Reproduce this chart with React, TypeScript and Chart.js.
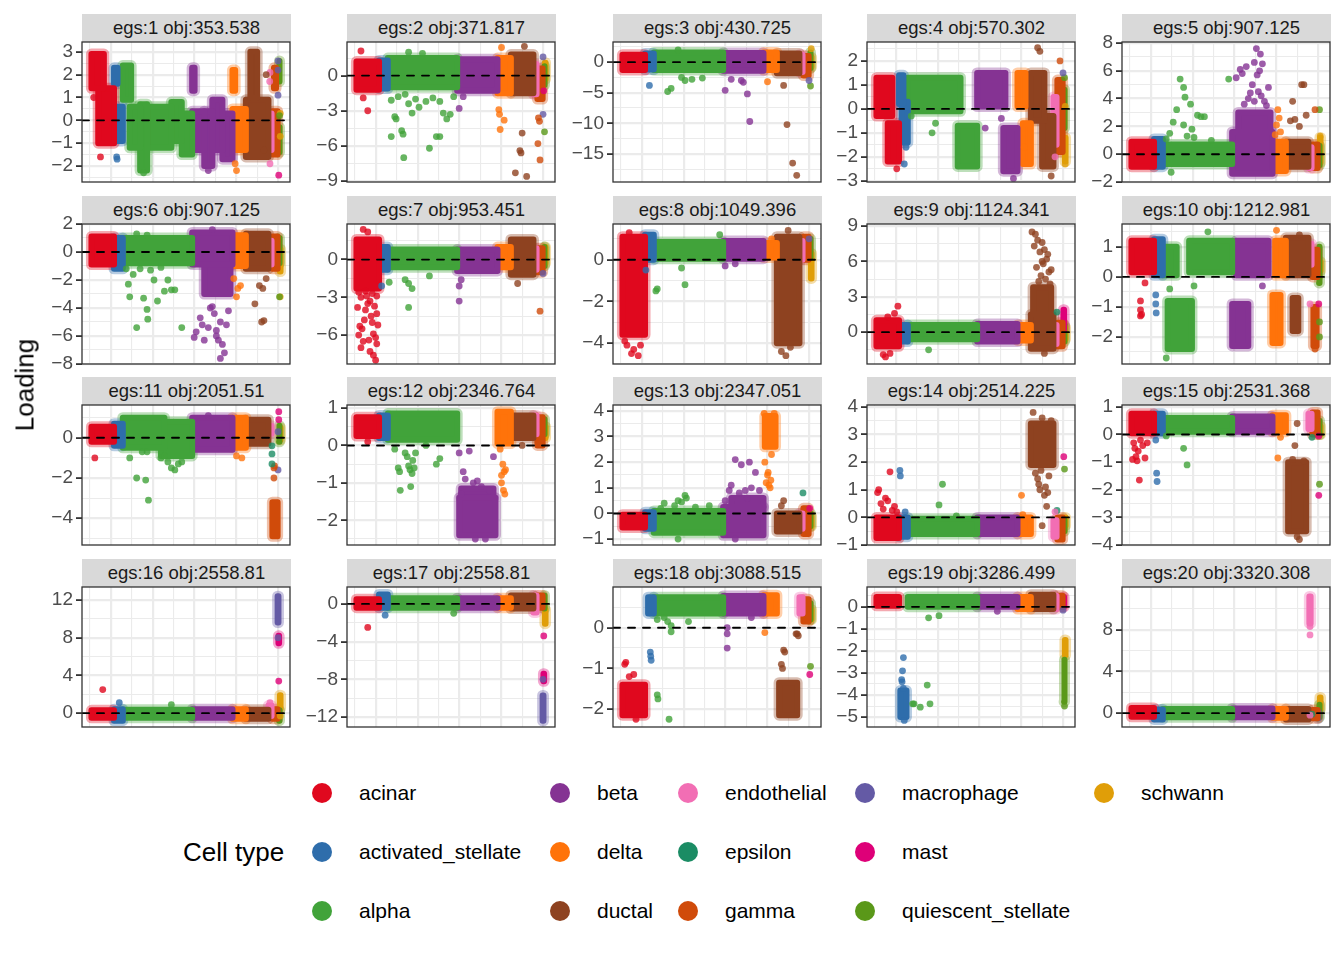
import React, { useEffect, useRef } from "react";
import { Chart, registerables } from "chart.js";

Chart.register(...registerables);

// ---------------- data ----------------
const cellTypes = [
  "acinar", "activated_stellate", "alpha", "beta", "delta", "ductal", "endothelial",
  "epsilon", "gamma", "macrophage", "mast", "quiescent_stellate", "schwann",
];
const typeColors = [
  "#E0081E", "#2E6DAB", "#41A33A", "#853393", "#FF730A", "#8E4220", "#F26EB4",
  "#1B8C64", "#D04B0A", "#645AA5", "#DE0078", "#5A9819", "#E09E08",
];
// number of cells of each type (cells are ordered by type along the x axis)
const cellCounts = [1080, 420, 3320, 1930, 640, 1080, 150, 40, 250, 40, 30, 40, 30];
const firstCellIndex = 70;

const panelTitles = [
  "egs:1 obj:353.538", "egs:2 obj:371.817", "egs:3 obj:430.725", "egs:4 obj:570.302", "egs:5 obj:907.125",
  "egs:6 obj:907.125", "egs:7 obj:953.451", "egs:8 obj:1049.396", "egs:9 obj:1124.341", "egs:10 obj:1212.981",
  "egs:11 obj:2051.51", "egs:12 obj:2346.764", "egs:13 obj:2347.051", "egs:14 obj:2514.225", "egs:15 obj:2531.368",
  "egs:16 obj:2558.81", "egs:17 obj:2558.81", "egs:18 obj:3088.515", "egs:19 obj:3286.499", "egs:20 obj:3320.308",
];

const yLimits = [
  [-2.7, 3.43], [-9.08, 2.87], [-19.6, 3.3], [-3.05, 2.79], [-2.0, 8.07],
  [-8.0, 2.0], [-8.3, 2.83], [-5.0, 1.71], [-2.7, 9.17], [-2.9, 1.76],
  [-5.33, 1.63], [-2.66, 1.08], [-1.23, 4.23], [-1.0, 4.07], [-4.0, 1.07],
  [-1.47, 13.37], [-13.05, 1.79], [-2.44, 1.0], [-5.45, 0.9], [-1.33, 12.1],
];

const yBreaks = [
  [-2, -1, 0, 1, 2, 3], [-9, -6, -3, 0], [-15, -10, -5, 0], [-3, -2, -1, 0, 1, 2], [-2, 0, 2, 4, 6, 8],
  [-8, -6, -4, -2, 0, 2], [-6, -3, 0], [-4, -2, 0], [0, 3, 6, 9], [-2, -1, 0, 1],
  [-4, -2, 0], [-2, -1, 0, 1], [-1, 0, 1, 2, 3, 4], [-1, 0, 1, 2, 3, 4], [-4, -3, -2, -1, 0, 1],
  [0, 4, 8, 12], [-12, -8, -4, 0], [-2, -1, 0], [-5, -4, -3, -2, -1, 0], [0, 4, 8],
];

const xBreaks = [1000, 3000, 5000, 7000, 9000];

// dense clusters: [typeIndex, fromFraction, toFraction, low, high] (fractions of that type's cells)
// single cells:   [typeIndex, fraction, loading]
const bands1 = [
  [0, 0, 0.55, 1.4, 2.9], [0, 0.3, 1, -1.0, 1.4], [1, 0, 0.4, 1.6, 2.3], [1, 0.3, 1, -0.9, 0.6],
  [2, 0, 0.12, 0.9, 2.4], [2, 0.1, 0.25, -1.2, 0.6], [2, 0.25, 0.35, -2.2, 0.7], [2, 0.35, 0.7, -1.2, 0.6],
  [2, 0.7, 0.85, -0.9, 0.8], [2, 0.85, 1, -1.5, 0.3], [3, 0, 0.06, 1.3, 2.3], [3, 0, 0.3, -1.3, 0.4],
  [3, 0.3, 0.5, -2.0, 0.4], [3, 0.5, 0.75, -1.3, 0.9], [3, 0.75, 1, -1.7, 0.3], [4, 0, 0.2, 1.3, 2.2],
  [4, 0, 1, -1.3, 0.5], [5, 0.2, 0.5, 1.0, 3.0], [5, 0, 1, -1.6, 0.9], [6, 0, 1, -1.3, 0.3],
  [8, 0, 1, -1.5, 0.4], [8, 0.3, 0.7, 1.4, 2.3], [11, 0, 1, 1.7, 2.6], [11, 0, 1, -1.4, -0.3],
];
const cells1 = [
  [0, 0.1, 1.0], [0, 0.4, -1.6], [1, 0.3, -1.6], [1, 0.35, -1.7], [2, 0.3, -2.3], [3, 0.4, -2.2],
  [4, 0.3, -2.2], [4, 0.2, -1.9], [5, 0.9, 2.0], [5, 0.8, -1.3], [6, 0.5, 2.1], [6, 0.5, -1.9],
  [6, 0.4, 1.7], [9, 0.5, 2.6], [9, 0.5, 2.2], [9, 0.5, 1.1], [12, 0.5, -0.7], [12, 0.5, 0.3],
  [10, 0.5, -2.4], [11, 0.5, 0.2],
];
const bands2 = [
  [0, 0, 1, -1.2, 1.2], [1, 0, 1, -1.1, 1.3], [2, 0, 1, -1.0, 1.5], [3, 0, 1, -1.3, 1.4],
  [4, 0, 1, -1.5, 1.5], [5, 0, 1, -1.5, 1.8], [6, 0, 1, -1.6, 1.0], [8, 0, 1, -2.0, 0.6],
  [11, 0, 1, -0.8, 0.8], [12, 0, 1, -0.3, 1.1],
];
const cells2 = [
  [0, 0.2, 2.1], [0, 0.5, -3.0], [0, 0.3, -1.9], [2, 0.05, -2.1], [2, 0.05, -5.2], [2, 0.1, -3.5],
  [2, 0.12, -3.7], [2, 0.2, -4.7], [2, 0.22, -5.0], [2, 0.23, -7.0], [2, 0.3, -2.4], [2, 0.35, -3.2],
  [2, 0.4, -2.0], [2, 0.45, -2.7], [2, 0.55, -2.2], [2, 0.6, -6.2], [2, 0.7, -5.2], [2, 0.75, -5.2],
  [2, 0.8, -3.2], [2, 0.85, -3.7], [2, 0.9, -3.3], [2, 0.75, -2.2], [2, 0.3, 2.0], [2, 0.5, 1.9],
  [2, 0.15, -1.8], [2, 0.65, -1.9], [2, 0.25, -1.6], [2, 0.95, -1.8],
  [3, 0.15, -1.8], [3, 0.05, -2.8], [4, 0.1, -2.9], [4, 0.15, -3.3], [4, 0.2, -4.6], [4, 0.5, -3.8],
  [4, 0.3, 2.4], [5, 0.5, -4.9], [5, 0.4, -6.4], [5, 0.45, -6.6], [5, 0.2, -8.3], [5, 0.7, -8.6],
  [5, 0.6, 2.5], [8, 0.2, -3.6], [8, 0.4, -3.9], [8, 0.1, -5.8], [8, 0.5, -7.2], [9, 0.5, 1.6],
  [9, 0.5, -3.3], [11, 0.5, -4.8], [10, 0.5, -1.3],
];
const bands3 = [
  [0, 0, 1, -1.3, 1.2], [1, 0, 1, -1.2, 1.4], [2, 0, 1, -1.3, 1.6], [3, 0, 1, -1.4, 1.5],
  [4, 0, 1, -1.3, 1.6], [5, 0, 1, -1.8, 1.4], [6, 0, 1, -1.6, 1.2], [8, 0, 1, -2.2, 1.0],
  [11, 0, 1, -1.0, 1.6], [12, 0, 1, -0.8, 0.8],
];
const cells3 = [
  [1, 0.5, -3.8], [2, 0.4, -2.5], [2, 0.45, -3.0], [2, 0.55, -2.8], [2, 0.2, -4.8], [2, 0.25, -4.3],
  [2, 0.7, -2.6], [3, 0.05, -4.6], [3, 0.2, -2.8], [3, 0.45, -3.0], [3, 0.5, -3.3], [3, 0.6, -5.2],
  [3, 0.66, -9.7], [4, 0.3, -3.2], [5, 0.3, -3.8], [5, 0.45, -10.2], [5, 0.7, -16.5], [5, 0.88, -18.5],
  [2, 0.35, 2.0], [9, 0.5, -3.0], [11, 0.5, -3.9], [12, 0.5, 2.2],
];
const bands4 = [
  [0, 0, 0.7, -0.3, 1.3], [0, 0.5, 1, -2.2, -0.6], [1, 0, 0.5, 0.2, 1.4], [1, 0.3, 1, -1.4, 0.3],
  [2, 0, 0.76, -0.1, 1.3], [2, 0.72, 1, -2.4, -0.7], [3, 0, 0.7, 0.1, 1.5], [3, 0.65, 1, -2.6, -0.8],
  [4, 0, 0.6, 0.1, 1.5], [4, 0.4, 1, -2.3, -0.6], [5, 0, 0.6, -0.5, 1.5], [5, 0.5, 1, -2.4, -0.3],
  [6, 0, 1, -1.5, 0.5], [8, 0, 1, -1.8, 1.2], [11, 0, 1, -0.8, 0.8], [12, 0, 1, -2.2, -1.2],
];
const cells4 = [
  [0, 0.9, -2.5], [1, 0.6, -2.3], [1, 0.8, -1.6], [2, 0.05, -0.3], [2, 0.35, -1.0], [2, 0.4, -0.6],
  [3, 0.2, -0.8], [3, 0.6, -0.4], [3, 0.9, -2.9], [4, 0.5, -1.6], [5, 0.3, 2.55], [5, 0.4, 2.4],
  [5, 0.9, -2.8], [8, 0.5, 2.0], [9, 0.5, 1.5], [11, 0.5, 1.3], [6, 0.5, -2.0], [12, 0.5, -2.3],
  [12, 0.5, 0.1],
];
const bands5 = [
  [0, 0, 1, -0.9, 0.9], [1, 0, 1, -0.9, 1.1], [2, 0, 1, -0.7, 0.7], [3, 0, 1, -1.4, 1.6],
  [3, 0.15, 0.95, 1.6, 3.0], [4, 0, 1, -1.2, 0.9], [5, 0, 1, -0.9, 0.9], [6, 0, 1, -1.0, 0.5],
  [8, 0, 1, -1.0, 0.7], [11, 0, 1, -0.8, 0.6], [12, 0, 1, -0.6, 1.2],
];
const cells5 = [
  [2, 0.25, 5.4], [2, 0.3, 4.8], [2, 0.32, 4.1], [2, 0.2, 3.2], [2, 0.15, 2.3], [2, 0.1, 1.5],
  [2, 0.05, 1.1], [2, 0.4, 3.6], [2, 0.5, 2.8], [2, 0.55, 2.7], [2, 0.6, 2.7], [2, 0.35, 1.3],
  [2, 0.45, 1.2], [2, 0.3, 2.1], [2, 0.42, 1.8], [2, 0.95, 5.4], [2, 0.7, 1.0], [2, 0.12, -1.3],
  [3, 0.2, 6.1], [3, 0.25, 5.8], [3, 0.35, 6.3], [3, 0.1, 5.5], [3, 0.4, 4.0], [3, 0.45, 4.4],
  [3, 0.5, 5.0], [3, 0.55, 6.6], [3, 0.6, 7.6], [3, 0.7, 7.2], [3, 0.75, 6.5], [3, 0.65, 4.5],
  [3, 0.8, 3.8], [3, 0.85, 3.5], [3, 0.9, 4.8], [3, 0.62, 5.7], [3, 0.68, 6.0], [3, 0.72, 4.2],
  [3, 0.3, 3.6], [3, 0.55, 3.8], [4, 0.4, 3.2], [4, 0.5, 2.6], [4, 0.3, 2.1], [4, 0.6, 1.6],
  [4, 0.2, 1.4], [5, 0.7, 5.0], [5, 0.8, 5.0], [5, 0.3, 3.8], [5, 0.2, 2.4], [5, 0.4, 2.5],
  [5, 0.9, 2.8], [5, 0.6, 2.0], [8, 0.5, 3.2], [11, 0.5, 3.2], [12, 0.5, 1.3],
];
const bands6 = [
  [0, 0, 1, -0.9, 1.1], [1, 0, 1, -1.2, 1.0], [2, 0, 1, -0.8, 1.0], [3, 0, 1, -0.9, 1.4],
  [3, 0.3, 0.95, -3.0, -0.9], [4, 0, 1, -1.0, 1.2], [5, 0, 1, -1.2, 1.3], [6, 0, 1, -0.9, 0.8],
  [8, 0, 1, -1.2, 1.1], [11, 0, 1, -0.8, 1.0], [12, 0, 1, -1.4, 0.2],
];
const cells6 = [
  [2, 0.05, -1.2], [2, 0.08, -2.3], [2, 0.1, -3.2], [2, 0.2, -5.4], [2, 0.3, -3.3], [2, 0.35, -4.1],
  [2, 0.36, -4.8], [2, 0.25, -1.2], [2, 0.45, -2.0], [2, 0.5, -3.5], [2, 0.6, -2.8], [2, 0.7, -2.7],
  [2, 0.75, -2.7], [2, 0.65, -2.0], [2, 0.85, -5.4], [2, 0.15, -1.6], [2, 0.4, -1.3], [2, 0.55, -1.1],
  [2, 0.2, 1.3], [2, 0.35, 1.2], [3, 0.05, -6.1], [3, 0.1, -5.7], [3, 0.2, -4.7], [3, 0.25, -5.2],
  [3, 0.3, -6.3], [3, 0.4, -5.4], [3, 0.45, -4.0], [3, 0.5, -3.9], [3, 0.55, -4.4], [3, 0.6, -5.6],
  [3, 0.65, -6.3], [3, 0.7, -7.6], [3, 0.75, -6.6], [3, 0.8, -7.2], [3, 0.85, -5.2], [3, 0.9, -4.2],
  [3, 0.6, -6.0], [3, 0.7, -5.0], [3, 0.5, 1.6], [4, 0.1, -1.9], [4, 0.3, -3.2], [4, 0.4, -2.6],
  [4, 0.6, -2.4], [5, 0.4, -3.7], [5, 0.7, -5.0], [5, 0.8, -4.9], [5, 0.6, -2.4], [5, 0.75, -2.6],
  [5, 0.9, -1.9], [11, 0.5, -3.2], [12, 0.5, -3.2],
];
const bands7 = [
  [0, 0, 1, -2.3, 1.6], [1, 0, 1, -0.8, 1.0], [2, 0, 1, -0.6, 0.8], [3, 0, 1, -0.9, 0.8],
  [4, 0, 1, -0.6, 1.0], [5, 0, 1, -1.2, 1.6], [6, 0, 1, -0.8, 0.9], [8, 0, 1, -1.0, 0.9],
  [11, 0, 1, -0.5, 1.0], [12, 0, 1, -0.3, 1.0],
];
const cells7 = [
  [0, 0.3, 2.4], [0, 0.5, 2.2], [0, 0.1, -2.6], [0, 0.2, -3.0], [0, 0.6, -3.3], [0, 0.8, -3.7],
  [0, 0.4, -4.0], [0, 0.9, -4.3], [0, 0.35, -4.8], [0, 0.7, -5.0], [0, 0.15, -5.3], [0, 0.25, -5.5],
  [0, 0.75, -5.9], [0, 0.1, -6.0], [0, 0.85, -6.2], [0, 0.55, -6.4], [0, 0.9, -6.7], [0, 0.2, -7.0],
  [0, 0.6, -7.3], [0, 0.75, -7.6], [0, 0.85, -8.0], [0, 0.5, -3.5], [0, 0.45, -2.9], [0, 0.65, -4.5],
  [0, 0.3, -6.5], [0, 0.95, -5.2], [0, 0.05, -3.8], [0, 0.7, -2.7], [0, 0.4, -2.5], [0, 0.9, -2.9],
  [1, 0.3, -2.1], [2, 0.02, -1.8], [2, 0.25, -1.6],
  [2, 0.3, -1.9], [2, 0.35, -2.3], [2, 0.3, -3.8], [2, 0.6, -1.3], [3, 0.05, -2.1], [3, 0.05, -3.3],
  [3, 0.1, -1.6], [5, 0.3, -1.9], [8, 0.5, -4.1], [9, 0.5, -1.1],
];
const bands8 = [
  [0, 0, 1, -3.6, 1.1], [1, 0, 1, 0.0, 1.2], [2, 0, 1, 0.05, 0.85], [3, 0, 1, 0.05, 0.9],
  [4, 0, 1, 0.1, 0.8], [5, 0, 1, -4.0, 1.1], [6, 0, 1, 0.0, 0.9], [8, 0, 1, 0.0, 1.1],
  [11, 0, 1, 0.1, 1.0], [12, 0, 1, -0.9, 0.3],
];
const cells8 = [
  [0, 0.2, -4.1], [0, 0.5, -4.3], [0, 0.7, -4.6], [0, 0.4, -4.5], [0, 0.1, -3.9], [0, 0.8, -4.1],
  [0, 0.3, 1.3], [1, 0.1, -0.5], [2, 0.03, -1.5], [2, 0.05, -1.4], [2, 0.45, -1.2], [2, 0.4, -0.4],
  [2, 0.95, 1.2], [3, 0.05, -0.3], [3, 0.3, -0.2], [4, 0.6, 1.0], [5, 0.2, -4.4], [5, 0.4, -4.6],
  [5, 0.6, -4.2], [5, 0.5, 1.4], [9, 0.5, 1.0],
];
const bands9 = [
  [0, 0, 1, -1.2, 1.0], [1, 0, 1, -0.8, 0.6], [2, 0, 1, -0.6, 0.6], [3, 0, 1, -0.8, 0.7],
  [4, 0, 1, -0.7, 0.6], [5, 0, 1, -1.4, 1.5], [5, 0.1, 0.9, 1.5, 3.8], [6, 0, 1, -1.0, 0.6],
  [8, 0, 1, -1.2, 0.8], [10, 0, 1, 0.2, 1.9], [11, 0, 1, -0.8, 0.6], [12, 0, 1, -0.6, 0.4],
];
const cells9 = [
  [0, 0.3, -1.9], [0, 0.4, -2.1], [0, 0.6, -1.8], [0, 0.8, 1.6], [0, 0.95, 2.2], [0, 0.5, 1.3],
  [2, 0.3, -1.5], [5, 0.05, 8.5], [5, 0.2, 8.3], [5, 0.3, 7.8], [5, 0.5, 7.6], [5, 0.6, 7.0],
  [5, 0.4, 6.8], [5, 0.7, 6.2], [5, 0.55, 5.8], [5, 0.25, 5.5], [5, 0.8, 5.1], [5, 0.45, 4.8],
  [5, 0.65, 4.5], [5, 0.35, 4.3], [5, 0.75, 6.6], [5, 0.15, 7.3], [5, 0.9, 5.3], [5, 0.5, 6.0],
  [5, 0.85, 4.1], [7, 0.5, 1.7], [5, 0.6, -1.8],
];
const bands10 = [
  [0, 0, 1, 0.15, 1.2], [1, 0, 1, 0.05, 1.25], [2, 0, 0.2, 0.05, 1.0], [2, 0.07, 0.42, -2.4, -0.8],
  [2, 0.38, 1, 0.15, 1.2], [3, 0.1, 0.9, 0.05, 1.2], [3, 0, 0.4, -2.3, -0.9], [4, 0.2, 1, 0.05, 1.2],
  [4, 0, 0.6, -2.2, -0.6], [5, 0, 1, 0.05, 1.3], [5, 0.3, 0.55, -1.8, -0.7], [6, 0, 1, 0.4, 1.1],
  [8, 0, 1, 0.0, 0.9], [8, 0.2, 0.8, -2.3, -1.0], [11, 0, 1, -0.2, 1.0], [12, 0, 1, 0.2, 0.5],
];
const cells10 = [
  [0, 0.4, -0.8], [0, 0.4, -1.1], [0, 0.4, -1.3], [0, 0.45, -1.25], [0, 0.6, -0.2], [1, 0.2, -0.6],
  [1, 0.2, -0.9], [1, 0.25, -1.2], [2, 0.1, -0.4], [2, 0.45, -0.3], [2, 0.65, 1.5], [2, 0.05, -2.7],
  [3, 0.75, -0.3], [4, 0.3, 1.55], [5, 0.6, 1.4], [6, 0.5, -0.9], [10, 0.5, -0.9], [11, 0.5, -2.0],
  [11, 0.5, -1.5], [8, 0.5, -2.4],
];
const bands11 = [
  [0, 0, 1, -0.2, 0.55], [1, 0, 1, -0.4, 0.7], [2, 0, 0.6, -0.5, 1.0], [2, 0.55, 1, -0.9, 0.8],
  [3, 0, 1, -0.6, 1.0], [4, 0, 1, -0.5, 1.0], [5, 0, 1, -0.3, 0.9], [6, 0, 1, 0.2, 0.6],
  [8, 0, 1, -4.9, -3.2], [11, 0, 1, -0.2, 0.6], [12, 0, 1, -0.1, 0.5],
];
const cells11 = [
  [0, 0.15, -1.0], [2, 0.1, -1.0], [2, 0.2, -2.0], [2, 0.28, -0.7], [2, 0.33, -2.1], [2, 0.35, -0.7],
  [2, 0.37, -3.1], [2, 0.55, -1.0], [2, 0.65, -1.2], [2, 0.7, -1.5], [2, 0.75, -1.6], [2, 0.8, -1.3],
  [2, 0.85, -1.2], [2, 0.6, -0.9], [3, 0.4, 1.1], [4, 0.3, -0.9], [4, 0.7, -1.0], [7, 0.5, -0.4],
  [7, 0.5, -0.8], [7, 0.5, -1.3], [8, 0.3, -2.0], [8, 0.3, -1.5], [8, 0.4, -1.4], [10, 0.5, 1.3],
  [10, 0.5, 0.9], [9, 0.5, -1.6], [9, 0.5, 0.3],
];
const bands12 = [
  [0, 0, 1, 0.25, 0.75], [1, 0, 1, 0.2, 0.8], [2, 0, 1, 0.15, 0.85], [3, 0.05, 0.95, -2.4, -1.4],
  [3, 0.1, 0.9, -1.4, -1.15], [4, 0, 1, 0.05, 0.9], [5, 0, 1, 0.2, 0.8], [6, 0, 1, 0.3, 0.8],
  [8, 0, 1, 0.0, 0.75], [11, 0, 1, 0.3, 0.7], [12, 0, 1, 0.2, 0.5],
];
const cells12 = [
  [0, 0.5, 0.1], [2, 0.1, -0.1], [2, 0.15, -0.6], [2, 0.17, -0.7], [2, 0.18, -1.2], [2, 0.25, -0.2],
  [2, 0.28, -0.3], [2, 0.3, -0.55], [2, 0.32, -0.65], [2, 0.35, -0.75], [2, 0.33, -1.1], [2, 0.36, -0.4],
  [2, 0.4, -0.2], [2, 0.55, 0.0], [2, 0.7, -0.5], [2, 0.75, -0.35], [2, 0.38, -0.6], [3, 0.05, -0.2],
  [3, 0.15, -0.7], [3, 0.2, -0.9], [3, 0.3, -0.15], [3, 0.4, -1.0], [3, 0.5, -0.95], [3, 0.6, -1.1],
  [3, 0.8, -1.2], [3, 0.9, -0.3], [3, 0.45, -2.5], [3, 0.7, -2.5], [3, 0.1, -1.3], [4, 0.2, -0.1],
  [4, 0.4, -0.5], [4, 0.5, -0.7], [4, 0.3, -1.0], [4, 0.45, -1.2], [4, 0.55, -1.3], [4, 0.6, -0.65],
  [4, 0.3, -0.8], [5, 0.5, 0.0],
];
const bands13 = [
  [0, 0, 1, -0.55, -0.05], [1, 0, 1, -0.6, 0.05], [2, 0, 1, -0.75, 0.1], [3, 0, 1, -0.85, 0.25],
  [3, 0.2, 1, 0.25, 0.6], [4, 0.1, 0.9, 2.6, 3.8], [5, 0, 1, -0.7, 0.0], [6, 0, 1, -0.6, 0.0],
  [8, 0, 1, -0.8, 0.2], [11, 0, 1, -0.5, 0.0], [12, 0, 1, -0.5, -0.1],
];
const cells13 = [
  [2, 0.1, 0.2], [2, 0.15, 0.4], [2, 0.3, 0.3], [2, 0.35, 0.5], [2, 0.4, 0.45], [2, 0.45, 0.7],
  [2, 0.47, 0.6], [2, 0.6, 0.25], [2, 0.35, -1.0], [2, 0.8, 0.3], [3, 0.05, 0.5], [3, 0.15, 0.9],
  [3, 0.2, 1.1], [3, 0.3, 2.1], [3, 0.4, 0.8], [3, 0.45, 1.9], [3, 0.55, 0.9], [3, 0.65, 2.0],
  [3, 0.7, 1.0], [3, 0.8, 1.6], [3, 0.9, 0.9], [3, 0.6, 0.6], [3, 0.3, -1.0], [4, 0.2, 1.2],
  [4, 0.3, 1.5], [4, 0.35, 1.6], [4, 0.4, 1.1], [4, 0.5, 1.0], [4, 0.55, 1.3], [4, 0.1, 2.0],
  [4, 0.6, 2.3], [4, 0.05, 3.9], [4, 0.8, 3.9], [5, 0.2, 0.3], [5, 0.3, 0.5], [7, 0.5, 0.8],
  [10, 0.5, 0.2],
];
const bands14 = [
  [0, 0, 1, -0.75, 0.0], [1, 0, 1, -0.7, 0.0], [2, 0, 1, -0.6, -0.05], [3, 0, 1, -0.6, 0.0],
  [4, 0, 1, -0.6, 0.0], [5, 0, 1, 1.9, 3.4], [6, 0, 1, -0.7, -0.1], [8, 0, 1, -0.8, 0.0],
  [11, 0, 1, -0.5, -0.1], [12, 0, 1, -0.3, 0.0],
];
const cells14 = [
  [0, 0.05, 0.9], [0, 0.1, 1.0], [0, 0.2, 0.5], [0, 0.3, 0.3], [0, 0.4, 0.7], [0, 0.5, 0.6],
  [0, 0.6, 1.65], [0, 0.7, 0.25], [0, 0.8, 0.4], [0, 0.9, 0.2], [1, 0.1, 1.7], [1, 0.15, 1.5],
  [1, 0.7, 0.2], [2, 0.5, 1.2], [2, 0.45, 0.45], [2, 0.7, 0.05], [4, 0.3, 0.8], [4, 0.4, 0.1],
  [5, 0.1, 3.8], [5, 0.5, 3.6], [5, 0.9, 3.5], [5, 0.2, 1.6], [5, 0.3, 1.4], [5, 0.35, 1.2],
  [5, 0.4, 1.0], [5, 0.6, 0.8], [5, 0.7, 0.4], [5, 0.45, 1.7], [5, 0.8, 1.5], [5, 0.65, 1.1],
  [5, 0.75, 0.9], [5, 0.5, -0.3], [10, 0.5, 2.2], [11, 0.5, 1.75], [7, 0.5, 0.25], [6, 0.5, 0.2],
];
const bands15 = [
  [0, 0, 1, 0.05, 0.75], [1, 0, 1, 0.05, 0.75], [2, 0, 1, 0.1, 0.6], [3, 0, 1, 0.1, 0.65],
  [4, 0, 1, 0.1, 0.7], [5, 0.1, 0.9, -3.5, -1.0], [6, 0, 1, 0.2, 0.75], [8, 0, 1, 0.0, 0.8],
  [11, 0, 1, 0.0, 0.5], [12, 0, 1, 0.0, 0.3],
];
const cells15 = [
  [0, 0.1, -0.3], [0, 0.15, -0.5], [0, 0.2, -0.8], [0, 0.25, -0.95], [0, 0.3, -0.6], [0, 0.35, -1.65],
  [0, 0.4, -0.2], [0, 0.5, -0.4], [0, 0.6, -0.85], [0, 0.7, -0.3], [0, 0.05, -0.9], [1, 0.2, -0.2],
  [1, 0.3, -1.4], [1, 0.35, -1.7], [2, 0.05, -0.05], [2, 0.3, -0.5], [2, 0.35, -1.1], [4, 0.4, -0.85],
  [4, 0.6, -0.1], [5, 0.5, 0.4], [5, 0.4, -0.4], [5, 0.3, -0.9], [5, 0.8, -0.95], [5, 0.6, -3.8],
  [5, 0.5, -3.7], [7, 0.5, -0.1], [11, 0.5, -1.8], [10, 0.5, -2.2], [10, 0.5, -0.05],
];
const bands16 = [
  [0, 0, 1, -0.5, 0.3], [1, 0, 1, -0.8, 0.4], [2, 0, 1, -0.5, 0.35], [3, 0, 1, -0.5, 0.4],
  [4, 0, 1, -0.6, 0.4], [5, 0, 1, -0.6, 0.35], [6, 0, 1, -0.3, 0.8], [8, 0, 1, -0.6, 0.4],
  [9, 0, 1, 9.6, 12.4], [10, 0, 1, 7.4, 8.2], [11, 0, 1, -0.8, 0.3], [12, 0, 1, 0.5, 1.9],
];
const cells16 = [
  [0, 0.5, 2.5], [1, 0.6, 1.1], [2, 0.7, 0.9], [6, 0.5, 1.1], [9, 0.5, 8.0], [10, 0.5, 3.4],
  [12, 0.5, -0.3],
];
const bands17 = [
  [0, 0, 1, -0.4, 0.5], [1, 0, 1, -0.4, 1.0], [2, 0, 1, -0.4, 0.6], [3, 0, 1, -0.4, 0.6],
  [4, 0, 1, -0.4, 0.6], [5, 0, 1, -0.5, 0.9], [6, 0, 1, -0.9, 0.9], [8, 0, 1, -0.4, 0.9],
  [9, 0, 1, -12.4, -9.7], [10, 0, 1, -8.2, -7.4], [11, 0, 1, -0.5, 0.9], [12, 0, 1, -2.1, -0.6],
];
const cells17 = [
  [0, 0.5, -2.5], [1, 0.7, -1.2], [2, 0.95, -1.0], [9, 0.5, -8.0], [10, 0.5, -3.4],
];
const bands18 = [
  [0, 0, 1, -2.15, -1.4], [1, 0.35, 1, 0.35, 0.75], [2, 0, 1, 0.35, 0.75], [3, 0, 1, 0.35, 0.78],
  [4, 0, 1, 0.35, 0.8], [5, 0.1, 0.9, -2.15, -1.35], [6, 0, 1, 0.35, 0.75], [8, 0, 1, 0.15, 0.7],
  [11, 0, 1, 0.2, 0.6], [12, 0, 1, 0.2, 0.45],
];
const cells18 = [
  [0, 0.3, -1.2], [0, 0.5, -1.15], [0, 0.1, -0.9], [0, 0.15, -0.85], [0, 0.6, -2.25], [1, 0.6, -0.6],
  [1, 0.65, -0.7], [1, 0.7, -0.8], [2, 0.05, 0.2], [2, 0.15, 0.25], [2, 0.2, 0.15], [2, 0.25, 0.05],
  [2, 0.25, -0.1], [2, 0.05, -1.65], [2, 0.06, -1.75], [2, 0.22, -2.25], [2, 0.5, 0.15], [3, 0.1, 0.0],
  [3, 0.1, -0.15], [3, 0.1, -0.5], [3, 0.7, 0.25], [4, 0.1, -0.12], [5, 0.3, -0.55], [5, 0.35, -0.6],
  [5, 0.2, -0.9], [5, 0.25, -1.0], [5, 0.9, -0.15], [5, 0.95, -0.2], [5, 0.85, -0.15], [11, 0.5, -0.95],
  [10, 0.5, -1.15],
];
const bands19 = [
  [0, 0, 1, 0.05, 0.45], [1, 0.15, 0.85, -5.0, -3.8], [2, 0, 1, 0.0, 0.45], [3, 0, 1, 0.0, 0.45],
  [4, 0, 1, -0.1, 0.45], [5, 0, 1, -0.1, 0.55], [6, 0, 1, -0.1, 0.5], [8, 0, 1, 0.0, 0.5],
  [10, 0, 1, 0.0, 0.45], [11, 0, 1, -4.3, -2.4], [12, 0, 1, -2.2, -1.5],
];
const cells19 = [
  [1, 0.5, -2.3], [1, 0.4, -2.9], [1, 0.3, -3.3], [1, 0.35, -3.4], [1, 0.5, -3.7], [1, 0.6, -5.15],
  [2, 0.07, -4.4], [2, 0.09, -4.4], [2, 0.18, -4.55], [2, 0.28, -3.55], [2, 0.32, -4.4], [2, 0.3, -0.5],
  [2, 0.45, -0.4], [3, 0.5, -0.2], [11, 0.5, -4.5], [9, 0.5, -0.15],
];
const bands20 = [
  [0, 0, 1, -0.35, 0.5], [1, 0, 1, -0.6, 0.35], [2, 0, 1, -0.4, 0.4], [3, 0, 1, -0.4, 0.45],
  [4, 0, 1, -0.45, 0.4], [5, 0, 1, -0.6, 0.4], [6, 0.3, 0.7, 8.6, 11.2], [8, 0, 1, -0.5, 0.3],
  [9, 0, 1, -0.5, 0.1], [11, 0, 1, -0.4, 0.8], [12, 0, 1, 0.4, 1.5],
];
const cells20 = [
  [6, 0.5, 7.5], [6, 0.5, 8.3], [6, 0.5, -0.2], [7, 0.5, -0.1],
];

const panelBands = [
  bands1, bands2, bands3, bands4, bands5, bands6, bands7, bands8, bands9, bands10,
  bands11, bands12, bands13, bands14, bands15, bands16, bands17, bands18, bands19, bands20,
];
const panelCells = [
  cells1, cells2, cells3, cells4, cells5, cells6, cells7, cells8, cells9, cells10,
  cells11, cells12, cells13, cells14, cells15, cells16, cells17, cells18, cells19, cells20,
];

// ---------------- layout / style ----------------
const FONT = '"Liberation Sans", Arial, Helvetica, sans-serif';
const PLOT_LEFTS = [82, 347, 613, 867, 1122];
const PLOT_TOPS = [42, 224, 405, 587];
const PLOT_W = 209;
const PLOT_H = 140;
const STRIP_H = 28;
const AXIS_W = 60;
const PAD_V = 16;
const PAD_R = 3;

const legendRows = [793, 852, 911];
const legendCols = [322, 560, 688, 865, 1104];

function withAlpha(hex: string, a: number) {
  const n = parseInt(hex.slice(1), 16);
  return `rgba(${(n >> 16) & 255},${(n >> 8) & 255},${n & 255},${a})`;
}

const typeStarts: number[] = [];
cellCounts.reduce((acc, c, i) => {
  typeStarts[i] = acc;
  return acc + c;
}, 0);
const totalCells = cellCounts.reduce((a, b) => a + b, 0);
const xMin = firstCellIndex - 0.05 * totalCells;
const xMax = firstCellIndex + totalCells * 1.05;

function cellX(t: number, f: number) {
  return firstCellIndex + typeStarts[t] + f * cellCounts[t];
}

function withMinors(majors: number[], lo: number, hi: number) {
  const step = majors[1] - majors[0];
  const out: number[] = [];
  for (let v = majors[0] - step / 2; v <= majors[majors.length - 1] + step / 2 + 1e-9; v += step) {
    if (v >= lo && v <= hi) out.push(v);
  }
  return out;
}

function fmt(v: number) {
  return v < 0 ? "\u2212" + Math.abs(v) : String(v);
}

const panelBorder = {
  id: "panelBorder",
  afterDraw(chart: any) {
    const { ctx, chartArea: a } = chart;
    ctx.save();
    ctx.strokeStyle = "#333333";
    ctx.lineWidth = 1.3;
    ctx.strokeRect(a.left, a.top, a.right - a.left, a.bottom - a.top);
    ctx.restore();
  },
};

function bandPolygon(t: number, f0: number, f1: number, lo: number, hi: number) {
  return [
    { x: cellX(t, f0), y: lo },
    { x: cellX(t, f1), y: lo },
    { x: cellX(t, f1), y: hi },
    { x: cellX(t, f0), y: hi },
    { x: cellX(t, f0), y: lo },
  ];
}

function buildConfig(idx: number): any {
  const [yMin, yMax] = yLimits[idx];
  const majorsY = yBreaks[idx];
  const minorsY = withMinors(majorsY, yMin, yMax);
  const allY = [...majorsY.filter((v) => v >= yMin && v <= yMax), ...minorsY].sort((a, b) => a - b);
  const minorsX = withMinors(xBreaks, xMin, xMax);
  const allX = [...xBreaks.filter((v) => v >= xMin && v <= xMax), ...minorsX].sort((a, b) => a - b);

  const datasets: any[] = [];
  panelBands[idx].forEach(([t, f0, f1, lo, hi]) => {
    const col = typeColors[t];
    // soft fringe of sparse cells around each dense cluster
    datasets.push({
      label: cellTypes[t] + " fringe",
      data: bandPolygon(t, f0, f1, lo, hi),
      showLine: true,
      fill: false,
      borderColor: withAlpha(col, 0.35),
      borderWidth: 11,
      borderJoinStyle: "round",
      borderCapStyle: "round",
      pointRadius: 0,
      tension: 0,
      clip: 0,
      order: 4,
    });
    datasets.push({
      label: cellTypes[t],
      data: bandPolygon(t, f0, f1, lo, hi),
      showLine: true,
      fill: "shape",
      backgroundColor: col,
      borderColor: col,
      borderWidth: 6,
      borderJoinStyle: "round",
      borderCapStyle: "round",
      pointRadius: 0,
      tension: 0,
      clip: 0,
      order: 3,
    });
  });
  cellTypes.forEach((name, t) => {
    const pts = panelCells[idx].filter((p) => p[0] === t).map(([tt, f, y]) => ({ x: cellX(tt, f), y }));
    if (!pts.length) return;
    datasets.push({
      label: name,
      data: pts,
      showLine: false,
      fill: false,
      pointRadius: 3.4,
      pointBorderWidth: 0,
      pointBackgroundColor: withAlpha(typeColors[t], 0.8),
      backgroundColor: withAlpha(typeColors[t], 0.8),
      borderColor: "rgba(0,0,0,0)",
      clip: 0,
      order: 2,
    });
  });
  datasets.push({
    label: "zero",
    data: [
      { x: xMin, y: 0 },
      { x: xMax, y: 0 },
    ],
    showLine: true,
    fill: false,
    borderColor: "#000000",
    borderWidth: 1.9,
    borderDash: [7, 8],
    borderCapStyle: "round",
    pointRadius: 0,
    clip: 0,
    order: 0,
  });

  return {
    type: "line",
    data: { datasets },
    plugins: [panelBorder],
    options: {
      animation: false,
      responsive: false,
      maintainAspectRatio: false,
      events: [],
      layout: { padding: { top: PAD_V, bottom: PAD_V, left: 0, right: PAD_R } },
      plugins: { legend: { display: false }, tooltip: { enabled: false }, title: { display: false } },
      scales: {
        x: {
          type: "linear",
          min: xMin,
          max: xMax,
          afterBuildTicks: (s: any) => {
            s.ticks = allX.map((v) => ({ value: v }));
          },
          afterFit: (s: any) => {
            s.height = 0;
          },
          ticks: { display: false },
          grid: {
            drawTicks: false,
            color: "#EBEBEB",
            lineWidth: (c: any) => (c.tick && xBreaks.includes(c.tick.value) ? 2.2 : 1.1),
          },
          border: { display: false },
        },
        y: {
          type: "linear",
          position: "left",
          min: yMin,
          max: yMax,
          afterBuildTicks: (s: any) => {
            s.ticks = allY.map((v) => ({ value: v }));
          },
          afterFit: (s: any) => {
            s.width = AXIS_W;
          },
          ticks: {
            autoSkip: false,
            maxRotation: 0,
            padding: 3,
            color: "#4D4D4D",
            font: { family: FONT, size: 19 },
            callback: (v: number) => (majorsY.includes(v) ? fmt(v) : ""),
          },
          grid: {
            color: "#EBEBEB",
            lineWidth: (c: any) => (c.tick && majorsY.includes(c.tick.value) ? 2.2 : 1.1),
            drawTicks: true,
            tickLength: 6,
            tickWidth: 1.8,
            tickColor: (c: any) => (c.tick && majorsY.includes(c.tick.value) ? "#333333" : "rgba(0,0,0,0)"),
          },
          border: { display: false },
        },
      },
    },
  };
}

function Panel({ idx }: { idx: number }) {
  const ref = useRef<HTMLCanvasElement>(null);
  const r = Math.floor(idx / 5);
  const c = idx % 5;
  const left = PLOT_LEFTS[c];
  const top = PLOT_TOPS[r];
  const cw = AXIS_W + PLOT_W + PAD_R;
  const ch = PLOT_H + 2 * PAD_V;
  useEffect(() => {
    const chart = new Chart(ref.current as HTMLCanvasElement, buildConfig(idx));
    return () => chart.destroy();
  }, [idx]);
  return (
    <>
      <div
        style={{
          position: "absolute",
          left,
          top: top - STRIP_H,
          width: PLOT_W,
          height: STRIP_H,
          background: "#D9D9D9",
          color: "#1A1A1A",
          fontFamily: FONT,
          fontSize: 18.5,
          lineHeight: `${STRIP_H}px`,
          textAlign: "center",
          whiteSpace: "nowrap",
        }}
      >
        {panelTitles[idx]}
      </div>
      <canvas
        ref={ref}
        width={cw}
        height={ch}
        style={{ position: "absolute", left: left - AXIS_W, top: top - PAD_V, width: cw, height: ch }}
      />
    </>
  );
}

export default function App() {
  return (
    <div
      style={{
        position: "absolute",
        left: 0,
        top: 0,
        width: 1344,
        height: 960,
        background: "#FFFFFF",
        overflow: "hidden",
        fontFamily: FONT,
      }}
    >
      {panelTitles.map((_, i) => (
        <Panel key={i} idx={i} />
      ))}
      <div
        style={{
          position: "absolute",
          left: 25,
          top: 385,
          transform: "translate(-50%, -50%) rotate(-90deg)",
          fontSize: 26,
          color: "#000",
          whiteSpace: "nowrap",
        }}
      >
        Loading
      </div>
      <div
        style={{
          position: "absolute",
          left: 183,
          top: legendRows[1],
          transform: "translateY(-50%)",
          fontSize: 26,
          color: "#000",
          whiteSpace: "nowrap",
        }}
      >
        Cell type
      </div>
      {cellTypes.map((name, i) => {
        const col = Math.floor(i / 3);
        const row = i % 3;
        const cx = legendCols[col];
        const cy = legendRows[row];
        return (
          <React.Fragment key={name}>
            <div
              style={{
                position: "absolute",
                left: cx - 10,
                top: cy - 10,
                width: 20,
                height: 20,
                borderRadius: "50%",
                background: typeColors[i],
              }}
            />
            <div
              style={{
                position: "absolute",
                left: cx + 37,
                top: cy,
                transform: "translateY(-50%)",
                fontSize: 21,
                color: "#000",
                whiteSpace: "nowrap",
              }}
            >
              {name}
            </div>
          </React.Fragment>
        );
      })}
    </div>
  );
}
